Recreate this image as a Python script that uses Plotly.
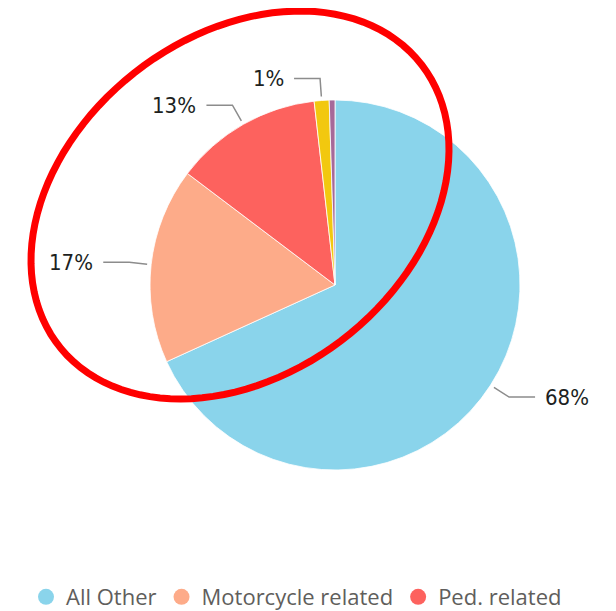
import numpy as np
import plotly.graph_objects as go

# the browser body keeps an 8px margin, so page pixel = figure pixel + 8
OFF = 8
W, H = 600, 603

# slice data, clockwise from 12 o'clock
categories = ["All Other", "Motorcycle related", "Ped. related", "Bicycle related", "Other"]
shares = [68.2, 17.1, 12.9, 1.3, 0.5]
slice_colors = ["#8AD4EB", "#FDAB89", "#FD625E", "#F2C80F", "#A66999"]
slice_text = ["68%", "17%", "13%", "1%", ""]

# legend entries visible in the picture
legend_names = ["All Other", "Motorcycle related", "Ped. related"]
legend_colors = ["#8AD4EB", "#FDAB89", "#FD625E"]

# pie placement in page pixels
cx, cy, r = 335, 285, 185


def px(x):
    return (x - OFF) / W


def py(y):
    return 1 - (y - OFF) / H


fig = go.Figure()

fig.add_trace(go.Pie(
    labels=categories,
    values=shares,
    sort=False,
    direction="clockwise",
    rotation=0,
    textinfo="none",
    marker=dict(colors=slice_colors, line=dict(color="white", width=0.8)),
    domain=dict(x=[px(cx - r), px(cx + r)], y=[py(cy + r), py(cy - r)]),
    showlegend=False,
))

# legend made of dummy marker traces (round swatches)
for name, col in zip(legend_names, legend_colors):
    fig.add_trace(go.Scatter(
        x=[None], y=[None], mode="markers", name=name,
        marker=dict(size=16, color=col, symbol="circle"),
    ))

# outside labels with elbow leader lines, placed from the slice mid-angles
shapes = []
annotations = []
total = sum(shares)
cum = 0
for val, txt in zip(shares, slice_text):
    mid = (cum + val / 2) / total * 2 * np.pi
    cum += val
    if not txt:
        continue
    s, c = np.sin(mid), np.cos(mid)
    side = 1 if s >= 0 else -1
    x1, y1 = cx + (r + 4) * s, cy - (r + 4) * c
    x2, y2 = cx + (r + 22) * s, cy - (r + 22) * c
    x3 = x2 + side * 26
    shapes.append(dict(
        type="path", xref="paper", yref="paper",
        path=f"M {px(x1)},{py(y1)} L {px(x2)},{py(y2)} L {px(x3)},{py(y2)}",
        line=dict(color="#8C8C8C", width=1.5),
    ))
    annotations.append(dict(
        x=px(x3 + side * 8), y=py(y2), xref="paper", yref="paper",
        text=txt, showarrow=False,
        xanchor="left" if side > 0 else "right", yanchor="middle",
        font=dict(family="DejaVu Sans Condensed, DejaVu Sans, sans-serif", size=22, color="#201F1E"),
    ))

# red hand-drawn style ellipse highlighting the small slices
ecx, ecy, ea, eb, ang = 240, 205, 229.5, 169.2, np.radians(37.7)
t = np.linspace(0, 2 * np.pi, 120)
ex = ecx + ea * np.cos(t) * np.cos(ang) + eb * np.sin(t) * np.sin(ang)
ey = ecy - ea * np.cos(t) * np.sin(ang) + eb * np.sin(t) * np.cos(ang)
path = "M " + " L ".join(f"{px(a)},{py(b)}" for a, b in zip(ex, ey)) + " Z"
shapes.append(dict(type="path", xref="paper", yref="paper", path=path,
                   line=dict(color="#FF0000", width=7)))

fig.update_layout(
    width=W, height=H,
    margin=dict(l=0, r=0, t=0, b=0, autoexpand=False),
    paper_bgcolor="white",
    plot_bgcolor="white",
    xaxis=dict(visible=False),
    yaxis=dict(visible=False),
    shapes=shapes,
    annotations=annotations,
    legend=dict(
        orientation="h",
        x=px(26), y=py(597),
        xanchor="left", yanchor="middle",
        font=dict(family="Open Sans, sans-serif", size=22, color="#605E5C"),
        itemsizing="trace",
        bgcolor="rgba(0,0,0,0)",
    ),
)

fig.write_html("out.html")
